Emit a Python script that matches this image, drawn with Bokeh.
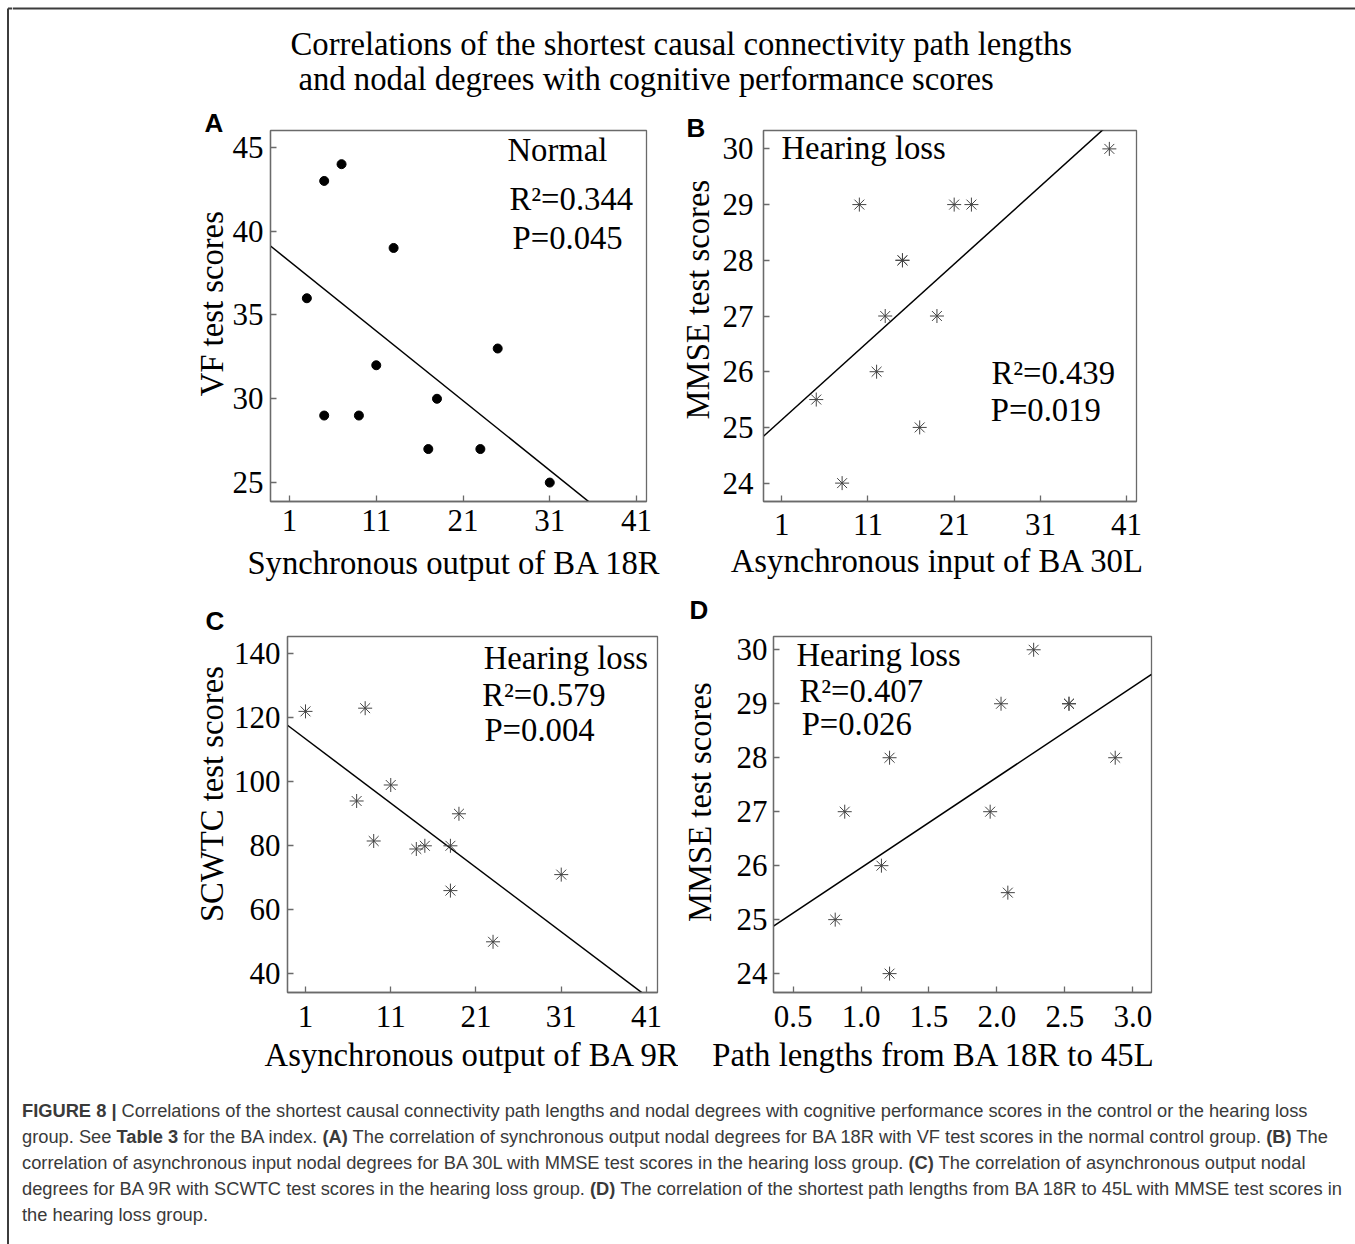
import numpy as np
from bokeh.plotting import figure
from bokeh.layouts import row, column
from bokeh.models import Range1d, FixedTicker, NumeralTickFormatter, Div
from bokeh.core.properties import value
from bokeh.embed import file_html
from bokeh.resources import INLINE

# ---------------- data ----------------
a_x = [5, 7, 13, 3, 11, 25, 18, 5, 9, 17, 23, 31]
a_y = [43, 44, 39, 36, 32, 33, 30, 29, 29, 27, 27, 25]
b_x = [39, 10, 21, 23, 15, 15, 13, 19, 12, 5, 17, 8]
b_y = [30, 29, 29, 29, 28, 28, 27, 27, 26, 25.5, 25, 24]
c_x = [1, 8, 11, 7, 19, 9, 14, 15, 18, 31, 18, 23]
c_y = [122, 123, 99, 94, 90, 81.5, 79, 80, 80, 71, 66, 50]
d_x = [2.27, 2.03, 2.53, 2.53, 1.21, 2.87, 0.88, 1.95, 1.15, 2.08, 0.81, 1.21]
d_y = [30, 29, 29, 29, 28, 28, 27, 27, 26, 25.5, 25, 24]

degree_ticks = [1, 11, 21, 31, 41]
vf_ticks = [25, 30, 35, 40, 45]
mmse_ticks = [24, 25, 26, 27, 28, 29, 30]
scwtc_ticks = [40, 60, 80, 100, 120, 140]
path_ticks = [0.5, 1.0, 1.5, 2.0, 2.5, 3.0]

a_stats = ["Normal", "R\u00b2=0.344", "P=0.045"]
b_stats = ["Hearing loss", "R\u00b2=0.439", "P=0.019"]
c_stats = ["Hearing loss", "R\u00b2=0.579", "P=0.004"]
d_stats = ["Hearing loss", "R\u00b2=0.407", "P=0.026"]

title_lines = ["Correlations of the shortest causal connectivity path lengths",
               "and nodal degrees with cognitive performance scores"]

SERIF = "Liberation Serif"
FRAME = "#6a6a6a"
BORDER = "#3c3c3c"
NB = "\u00a0"   # non-breaking space used to nudge axis labels off-centre


def panel(width, height, borders, xr, yr, xticks, yticks, xlabel, ylabel,
          letter, letter_offset, letter_standoff, letter_valign,
          x_std, y_std, xl_std, yl_std, xs, ys, marker, stats, stat_pos, xfmt=None):
    L, R, T, B = borders
    p = figure(width=width, height=height, x_range=Range1d(*xr), y_range=Range1d(*yr),
               output_backend="svg", toolbar_location=None, title=letter,
               min_border_left=L, min_border_right=R, min_border_top=T,
               min_border_bottom=B)
    p.margin = 0
    p.grid.visible = False
    p.outline_line_color = FRAME
    p.outline_line_width = 1.3
    p.background_fill_color = "white"
    p.border_fill_color = "white"
    p.title.text_font = "Liberation Sans"
    p.title.text_font_style = "bold"
    p.title.text_font_size = "26px"
    p.title.text_color = "black"
    p.title.align = "left"
    p.title.vertical_align = letter_valign
    p.title.offset = letter_offset
    p.title.standoff = letter_standoff
    p.xaxis.ticker = FixedTicker(ticks=xticks, minor_ticks=[])
    p.yaxis.ticker = FixedTicker(ticks=yticks, minor_ticks=[])
    if xfmt:
        p.xaxis.formatter = NumeralTickFormatter(format=xfmt)
    for ax in (p.xaxis[0], p.yaxis[0]):
        ax.axis_line_color = FRAME
        ax.axis_line_width = 1.3
        ax.major_tick_line_color = FRAME
        ax.major_tick_line_width = 1.3
        ax.major_tick_in = 6
        ax.major_tick_out = 0
        ax.minor_tick_in = 0
        ax.minor_tick_out = 0
        ax.major_label_text_font = SERIF
        ax.major_label_text_font_size = "31px"
        ax.major_label_text_color = "black"
        ax.axis_label_text_font = SERIF
        ax.axis_label_text_font_size = "32.7px"
        ax.axis_label_text_font_style = "normal"
        ax.axis_label_text_color = "black"
    p.xaxis.axis_label = xlabel
    p.yaxis.axis_label = ylabel
    p.xaxis.major_label_standoff = x_std
    p.yaxis.major_label_standoff = y_std
    p.xaxis.axis_label_standoff = xl_std
    p.yaxis.axis_label_standoff = yl_std

    # regression line from the data
    k, b0 = np.polyfit(xs, ys, 1)
    lx = [xr[0], xr[1]]
    p.line(lx, [k * v + b0 for v in lx], line_color="black", line_width=1.5)

    if marker == "circle":
        p.scatter(xs, ys, marker="circle", size=9, fill_color="black", line_color="black")
    else:
        p.scatter(xs, ys, marker="asterisk", size=14, line_color="#444444", line_width=1.0)

    p.text(x=[q[0] for q in stat_pos], y=[q[1] for q in stat_pos], text=stats,
           text_font=value(SERIF), text_font_size="32.7px", text_color="black",
           text_align="left", text_baseline="middle")
    return p


# row 1: y 100 -> 583
pA = panel(658, 483, (258, 24, 30, 82), (-1.19, 42.15), (23.87, 46.01),
           degree_ticks, vf_ticks, "Synchronous output of BA 18R" + NB,
           NB * 3 + "VF test scores",
           "A", -66, -14, "bottom", 8, 7, 11, 0, a_x, a_y, "circle", a_stats,
           [(26.13, 44.82), (26.36, 41.95), (26.71, 39.57)])
pB = panel(685, 483, (93, 219, 30, 82), (-1.12, 42.15), (23.67, 30.33),
           degree_ticks, mmse_ticks, "Asynchronous input of BA 30L" + NB * 3,
           NB * 4 + "MMSE test scores",
           "B", -77, -24, "bottom", 12, 10, 5, 4, b_x, b_y, "asterisk", b_stats,
           [(0.96, 30.02), (25.32, 25.98), (25.24, 25.32)])
# row 2: y 583 -> 1080
pC = panel(666, 497, (275, 21, 53, 88), (-1.11, 42.29), (34.16, 145.4),
           degree_ticks, scwtc_ticks, "Asynchronous output of BA 9R",
           NB * 5 + "SCWTC test scores",
           "C", -82, 1, "bottom", 13, 7, 7, 1, c_x, c_y, "asterisk", c_stats,
           [(21.91, 138.74), (21.72, 127.24), (21.99, 116.34)])
pD = panel(677, 497, (95, 204, 53, 88), (0.356, 3.137), (23.65, 30.246),
           path_ticks, mmse_ticks, "Path lengths from BA 18R to 45L" + NB * 7,
           NB * 3 + "MMSE test scores",
           "D", -84, 20, "top", 13, 6, 7, 16, d_x, d_y, "asterisk", d_stats,
           [(0.525, 29.91), (0.547, 29.23), (0.563, 28.63)], xfmt="0.0")


def canvas(width, height, x0, y0):
    c = figure(width=width, height=height, x_range=Range1d(x0, x0 + width),
               y_range=Range1d(y0 + height, y0), output_backend="svg",
               toolbar_location=None, min_border=0, x_axis_location=None,
               y_axis_location=None)
    c.margin = 0
    c.grid.visible = False
    c.outline_line_color = None
    c.background_fill_color = "white"
    c.border_fill_color = "white"
    return c


strip = canvas(12, 1244, 0, 0)
strip.segment(x0=[7.5, 7.5], y0=[8, 8], x1=[7.5, 12], y1=[1244, 8],
              line_color=BORDER, line_width=2)

top = canvas(1343, 100, 12, 0)
top.segment(x0=[12], y0=[8], x1=[1355], y1=[8], line_color=BORDER, line_width=2)
top.text(x=[290, 298], y=[43, 78], text=title_lines, text_font=value(SERIF),
         text_font_size="32.7px", text_color="black", text_align="left",
         text_baseline="middle")

caption_html = (
    "<div style=\"font-family:'Liberation Sans',Arial,sans-serif;font-size:18.3px;"
    "line-height:26px;color:#3a3a3a;white-space:nowrap;padding:0 0 0 10px;\">"
    "<b>FIGURE 8 |</b> Correlations of the shortest causal connectivity path lengths and "
    "nodal degrees with cognitive performance scores in the control or the hearing loss<br>"
    "group. See <b>Table 3</b> for the BA index. <b>(A)</b> The correlation of synchronous "
    "output nodal degrees for BA 18R with VF test scores in the normal control group. "
    "<b>(B)</b> The<br>"
    "correlation of asynchronous input nodal degrees for BA 30L with MMSE test scores in "
    "the hearing loss group. <b>(C)</b> The correlation of asynchronous output nodal<br>"
    "degrees for BA 9R with SCWTC test scores in the hearing loss group. <b>(D)</b> The "
    "correlation of the shortest path lengths from BA 18R to 45L with MMSE test scores in<br>"
    "the hearing loss group.</div>"
)
caption = Div(text=caption_html, width=1343, height=164, margin=(18, 0, 0, 0))

layout = row(strip,
             column(top, row(pA, pB, spacing=0), row(pC, pD, spacing=0), caption, spacing=0),
             spacing=0)

open("out.html", "w").write(file_html(layout, INLINE))
